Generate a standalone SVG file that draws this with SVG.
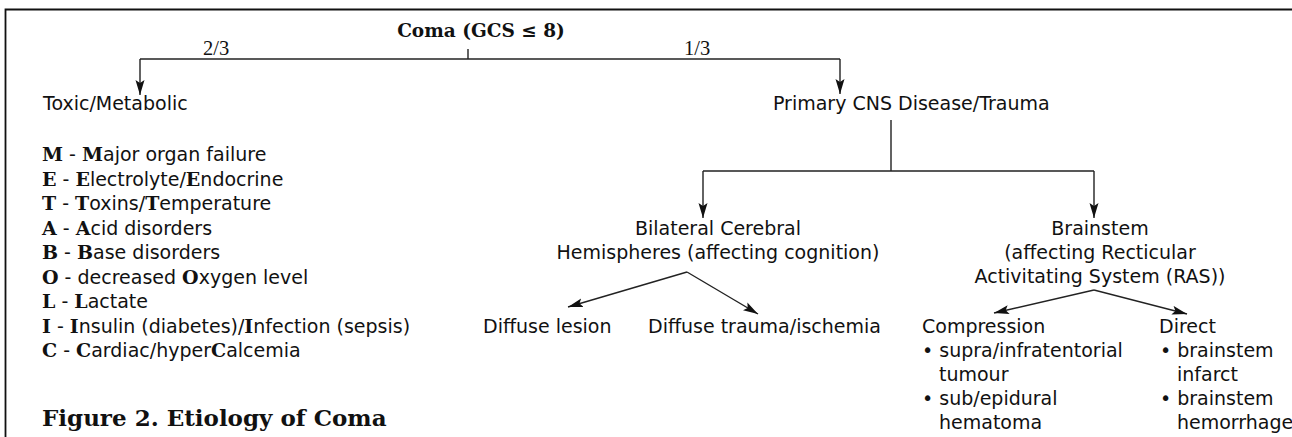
<svg xmlns="http://www.w3.org/2000/svg" width="1292" height="437" viewBox="0 0 1292 437">
<style>
text{font-family:"DejaVu Sans","Noto Sans",sans-serif;font-size:19px;fill:#111}
.b{font-family:"DejaVu Serif","Liberation Serif",serif;font-weight:bold}
.title{font-family:"DejaVu Serif","Liberation Serif",serif;font-weight:bold;font-size:18.5px}
.cap{font-family:"DejaVu Serif","Liberation Serif",serif;font-weight:bold;font-size:23px}
.frac{font-family:"Liberation Serif","Times New Roman",serif;font-size:20.5px}
.c{text-anchor:middle}
.ln{fill:none;stroke:#222;stroke-width:1.4}
</style>
<defs>
<marker id="ah" markerUnits="userSpaceOnUse" markerWidth="16" markerHeight="10" viewBox="0 0 16 10" refX="15" refY="5" orient="auto">
<path d="M0,0.5 L15,5 L0,9.5 L3,5 Z" fill="#111"/>
</marker>
</defs>
<path d="M5.5,437 V9.5 H1292" fill="none" stroke="#111" stroke-width="1.8"/>
<g id="connectors">
<path class="ln" d="M140,59 H840"/>
<path class="ln" d="M468,49 V59"/>
<path class="ln" d="M140,59 V95" marker-end="url(#ah)"/>
<path class="ln" d="M840,59 V94" marker-end="url(#ah)"/>
<path class="ln" d="M891,120 V171 M703,171 H1094"/>
<path class="ln" d="M703,171 V218" marker-end="url(#ah)"/>
<path class="ln" d="M1094,171 V218" marker-end="url(#ah)"/>
<path class="ln" d="M687,272 L568,307" marker-end="url(#ah)"/>
<path class="ln" d="M687,272 L758,314" marker-end="url(#ah)"/>
<path class="ln" d="M1094,290 L994,313" marker-end="url(#ah)"/>
<path class="ln" d="M1094,290 L1187,314" marker-end="url(#ah)"/>
<text class="frac" x="203" y="55">2/3</text>
<text class="frac" x="684" y="55">1/3</text>
</g>
<g id="coma"><text class="title c" x="481" y="37">Coma (GCS ≤ 8)</text></g>
<g id="toxic">
<text x="43" y="110">Toxic/Metabolic</text>
<text x="42" y="161"><tspan class="b">M</tspan> - <tspan class="b">M</tspan>ajor organ failure</text>
<text x="42" y="185.5"><tspan class="b">E</tspan> - <tspan class="b">E</tspan>lectrolyte/<tspan class="b">E</tspan>ndocrine</text>
<text x="42" y="210"><tspan class="b">T</tspan> - <tspan class="b">T</tspan>oxins/<tspan class="b">T</tspan>emperature</text>
<text x="42" y="234.5"><tspan class="b">A</tspan> - <tspan class="b">A</tspan>cid disorders</text>
<text x="42" y="259"><tspan class="b">B</tspan> - <tspan class="b">B</tspan>ase disorders</text>
<text x="42" y="283.5"><tspan class="b">O</tspan> - decreased <tspan class="b">O</tspan>xygen level</text>
<text x="42" y="308"><tspan class="b">L</tspan> - <tspan class="b">L</tspan>actate</text>
<text x="42" y="332.5"><tspan class="b">I</tspan> - <tspan class="b">I</tspan>nsulin (diabetes)/<tspan class="b">I</tspan>nfection (sepsis)</text>
<text x="42" y="357"><tspan class="b">C</tspan> - <tspan class="b">C</tspan>ardiac/hyper<tspan class="b">C</tspan>alcemia</text>
</g>
<g id="primary"><text x="773" y="110">Primary CNS Disease/Trauma</text></g>
<g id="bilateral">
<text class="c" x="718" y="235">Bilateral Cerebral</text>
<text class="c" x="718" y="259">Hemispheres (affecting cognition)</text>
</g>
<g id="brainstem">
<text class="c" x="1100" y="235">Brainstem</text>
<text class="c" x="1100" y="259">(affecting Recticular</text>
<text class="c" x="1100" y="283">Activitating System (RAS))</text>
</g>
<g id="diffuse-lesion"><text x="483" y="333">Diffuse lesion</text></g>
<g id="diffuse-trauma"><text x="648" y="333">Diffuse trauma/ischemia</text></g>
<g id="compression">
<text x="922" y="333">Compression</text>
<text x="922" y="357">• supra/infratentorial</text>
<text x="939" y="381">tumour</text>
<text x="922" y="405">• sub/epidural</text>
<text x="939" y="429">hematoma</text>
</g>
<g id="direct">
<text x="1159" y="333">Direct</text>
<text x="1160" y="357">• brainstem</text>
<text x="1177" y="381">infarct</text>
<text x="1160" y="405">• brainstem</text>
<text x="1177" y="429">hemorrhage</text>
</g>
<g id="caption"><text class="cap" x="42" y="426">Figure 2. Etiology of Coma</text></g>
</svg>
